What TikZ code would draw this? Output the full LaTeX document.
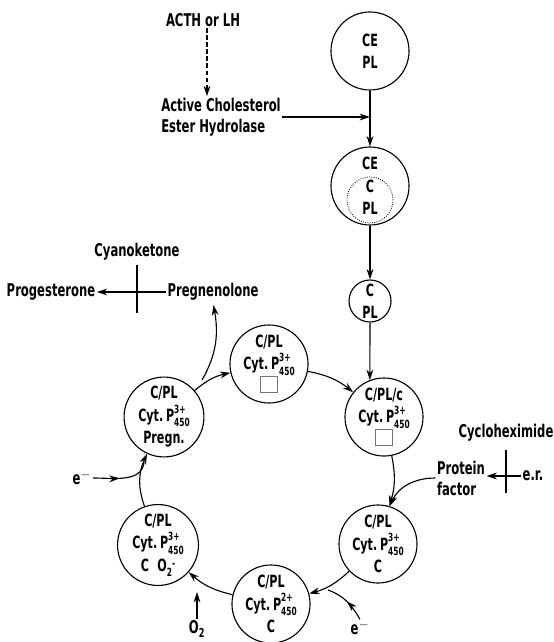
\documentclass[tikz,border=0pt]{standalone}
\usepackage{fontspec}
\setmainfont{DejaVu Sans}[UprightFont=* Bold, FakeStretch=0.66]
\usepackage{amsmath}
\usetikzlibrary{
    arrows.meta,
    positioning,
    calc,
    decorations.markings
}
% cytochrome label with stacked indices
\newcommand{\cytp}[1]{Cyt.\,P\rlap{\raisebox{0.5em}{\fontsize{8}{8}\selectfont #1}}\raisebox{-0.32em}{\fontsize{8}{8}\selectfont 450}}
% superoxide
\newcommand{\superox}{O\raisebox{-0.3em}{\fontsize{8}{8}\selectfont 2}\raisebox{0.25em}{\fontsize{8}{8}\selectfont -}}
% empty binding site
\newcommand{\emptybox}{{\color{black!55}\setlength{\fboxsep}{0pt}\setlength{\fboxrule}{0.5pt}\fbox{\rule{0pt}{4mm}\hspace{4mm}}}}
\tikzset{
    % --- Complex state (circle) ---
    state/.style = {
        circle, draw, thick,
        minimum size=1.95cm, inner sep=0pt,
        align=center, font=\fontsize{12}{16}\selectfont
    },
    % --- Small complex state ---
    small state/.style = {
        state, minimum size=1.05cm
    },
    % --- Free text label ---
    label text/.style = {
        font=\fontsize{12.5}{15}\selectfont, inner sep=1pt
    },
    % --- Reaction arrow ---
    react arrow/.style = {
        -{Stealth[length=2.6mm, width=1.7mm]}, thick
    },
    % --- Step of the cycle ---
    cycle arrow/.style = {
        react arrow, bend left=14
    },
    % --- Stimulation arrow ---
    induce arrow/.style = {
        react arrow, densely dashed
    },
    % --- Inhibitor bar ---
    block bar/.style = {
        line width=2pt
    },
    % --- Side input with arrow tip on the way ---
    mid arrow/.style = {
        thick,
        decoration={markings,
            mark=at position #1 with {\arrow{Stealth[length=2.6mm, width=1.7mm]}}},
        postaction={decorate}
    },
    mid arrow/.default=0.5
}

\begin{document}
\begin{tikzpicture}[x=0.025cm, y=-0.025cm]
\useasboundingbox (0,0) rectangle (553,642);

% ---------------------------------------------------------
% Cholesterol ester hydrolysis
% ---------------------------------------------------------
\node[label text] (acth) at (203,20) {ACTH or LH};
\node[label text, align=left] (ache) at (221,117) {Active Cholesterol\\Ester Hydrolase};

\node[state] (cepl) at (370,51) {CE\\PL};
\node[state] (cecpl) at (370,186) {CE\\C\\PL};
\node[circle, draw, densely dotted, semithick, minimum size=1.15cm] (cpool) at (370,200) {};
\node[small state] (cpl) at (370,301) {C\\PL};

\draw[induce arrow] (acth.south -| 207,0) -- (207,0 |- ache.north);
\draw[react arrow] (ache.east) -- (ache.east -| cepl);
\draw[react arrow] (cepl) -- (cecpl);
\draw[react arrow] (cecpl) -- (cpl);

% ---------------------------------------------------------
% Cytochrome P450 cycle
% ---------------------------------------------------------
\node[state] (ctop) at (269,364) {C/PL\\\cytp{3+}\\\emptybox};
\node[state] (cc) at (384,417) {C/PL/c\\\cytp{3+}\\\emptybox};
\node[state] (cred) at (378,544) {C/PL\\\cytp{3+}\\C};
\node[state] (cfe) at (271,604) {C/PL\\\cytp{2+}\\C};
\node[state] (coxy) at (158,545) {C/PL\\\cytp{3+}\\C\enspace\superox};
\node[state] (cpreg) at (164,417) {C/PL\\\cytp{3+}\\Pregn.};

\draw[react arrow] (cpl.south) -- (cc.111);
\draw[cycle arrow] (ctop) to (cc);
\draw[cycle arrow] (cc) to (cred);
\draw[cycle arrow] (cred) to (cfe);
\draw[cycle arrow] (cfe) to (coxy);
\draw[cycle arrow, bend left=22] (coxy) to (cpreg);
\draw[cycle arrow] (cpreg) to (ctop);

% ---------------------------------------------------------
% Inputs to the cycle
% ---------------------------------------------------------
\node[label text] (eleft) at (82,478) {e$^-$};
\coordinate (eleftIn) at (144,462);
\draw[mid arrow=0.45] (eleft.east) to[out=0, in=-95] (eleftIn);

\node[label text] (otwo) at (197,629) {O$_{\text{2}}$};
\coordinate (otwoIn) at (197,592);
\draw[react arrow] (otwo.north) -- (otwoIn);

\node[label text] (ebot) at (360,628) {e$^-$};
\coordinate (ebotIn) at (328,590);
\draw[mid arrow=0.5] (ebot.north) to[out=120, in=-20] (ebotIn);

\node[label text, align=left] (pf) at (461,478) {Protein\\factor};
\node[label text] (er) at (533,476) {e.r.};
\node[label text] (chx) at (506,433) {Cycloheximide};
\coordinate (chxTop) at (506,450);
\coordinate (chxBot) at (506,493);
\draw[react arrow] (er.west) -- (er.west -| pf.east);
\draw[block bar] (chxTop) -- (chxBot);
\draw[react arrow] (pf.west) to[out=180, in=65] (cred.73);

% ---------------------------------------------------------
% Pregnenolone output
% ---------------------------------------------------------
\node[label text] (preg) at (213,292) {Pregnenolone};
\node[label text] (proges) at (51,292) {Progesterone};
\node[label text] (cyano) at (137,252) {Cyanoketone};
\coordinate (cyanoTop) at (137,265);
\coordinate (cyanoBot) at (137,313);
\coordinate (pregOut) at (202,380);

\draw[react arrow, shorten >=2pt] (pregOut) to[out=60, in=-80] (preg.south);
\draw[react arrow] (preg.west) -- (proges.east);
\draw[block bar] (cyanoTop) -- (cyanoBot);

\end{tikzpicture}
\end{document}
